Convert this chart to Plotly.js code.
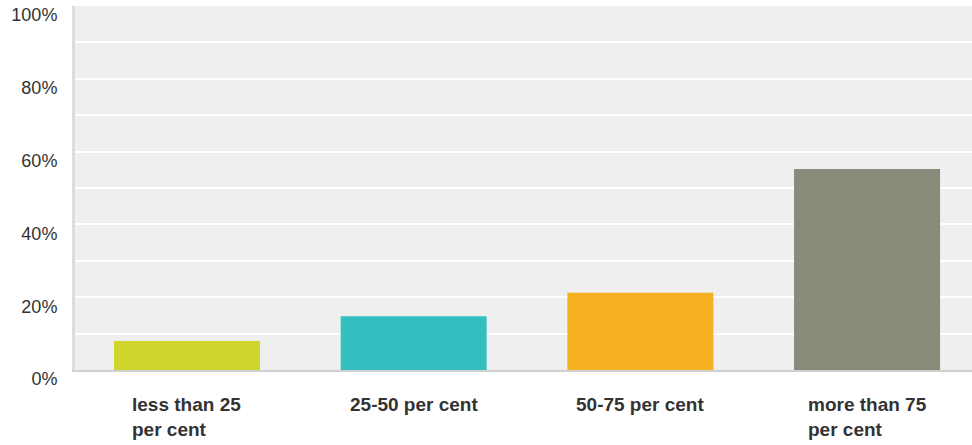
<!DOCTYPE html>
<html>
<head>
<meta charset="utf-8">
<script src="https://cdn.plot.ly/plotly-3.0.1.min.js"></script>
<style>html,body{margin:0;padding:0;background:#fff;}#chart{width:972px;height:445px;}</style>
</head>
<body>
<div id="chart"></div>
<script>
var categories = ["less than 25<br>per cent", "25-50 per cent", "50-75 per cent", "more than 75<br>per cent"];
var values = [8.0, 14.8, 21.2, 55.2];
var barColors = ["#cfd52a", "#33bec0", "#f7b01f", "#898a7a"];
var yTickVals = [0, 20, 40, 60, 80, 100];
var yTickText = ["0%", "20%", "40%", "60%", "80%", "100%"];

var xIdx = categories.map(function(_, i){ return i; });

var trace = {
  type: "bar",
  x: xIdx,
  y: values,
  marker: {color: barColors},
  width: 0.644,
  hoverinfo: "none"
};

var annotations = categories.map(function(c, i){
  return {
    x: i, xref: "x", y: 0, yref: "paper",
    text: c, showarrow: false,
    xanchor: "center", yanchor: "top", align: "left",
    yshift: -22,
    font: {family: "Liberation Sans, Arial, sans-serif", size: 19, color: "#333333", weight: "bold"}
  };
});

var layout = {
  width: 972, height: 445,
  margin: {l: 75, r: 0, t: 6, b: 75},
  paper_bgcolor: "#ffffff",
  plot_bgcolor: "#efefef",
  showlegend: false,
  font: {family: "Liberation Sans, Arial, sans-serif", size: 18, color: "#333333"},
  xaxis: {
    range: [-0.494, 3.463],
    showticklabels: false,
    showgrid: false,
    zeroline: false,
    showline: true, linecolor: "#d0d0d0", linewidth: 2,
    fixedrange: true
  },
  yaxis: {
    range: [0, 100],
    tickvals: yTickVals,
    ticktext: yTickText,
    showgrid: true, gridcolor: "#ffffff", gridwidth: 2,
    minor: {dtick: 10, tick0: 0, showgrid: true, gridcolor: "#ffffff", gridwidth: 2},
    zeroline: false,
    showline: true, linecolor: "#dddddd", linewidth: 3,
    ticks: "", ticklabelstandoff: 11, ticklabelshift: 9,
    tickfont: {family: "Liberation Sans, Arial, sans-serif", size: 18, color: "#333333"},
    fixedrange: true
  },
  annotations: annotations
};

Plotly.newPlot("chart", [trace], layout, {displayModeBar: false, staticPlot: true});
</script>
</body>
</html>
